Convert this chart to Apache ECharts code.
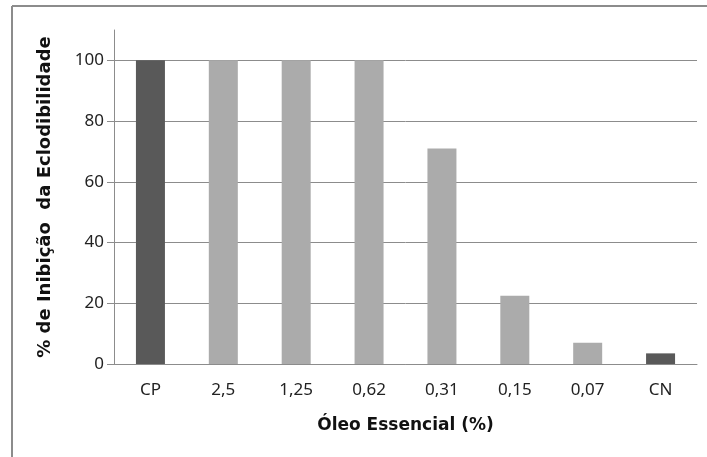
<!DOCTYPE html>
<html>
<head>
<meta charset="utf-8">
<script src="https://cdn.jsdelivr.net/npm/echarts@6/dist/echarts.min.js"></script>
<style>
  html, body { margin: 0; padding: 0; background: #fff; }
  #chart { width: 707px; height: 457px; }
</style>
</head>
<body>
<div id="chart"></div>
<script>
// concentrações de óleo essencial (CP / CN = controles)
const categories = ['CP', '2,5', '1,25', '0,62', '0,31', '0,15', '0,07', 'CN']
const inibicao = [100, 100, 100, 100, 71, 22.5, 7, 3.5]
const controles = ['CP', 'CN']

const chart = echarts.init(document.getElementById('chart'))

chart.setOption({
  animation: false,
  graphic: [
    // moldura (só esquerda e topo aparecem)
    { type: 'line', shape: { x1: 12, y1: 6, x2: 12, y2: 457 }, style: { stroke: '#8c8c8c', lineWidth: 2 } },
    { type: 'line', shape: { x1: 12, y1: 6, x2: 707, y2: 6 }, style: { stroke: '#8c8c8c', lineWidth: 2 } }
  ],
  grid: { left: 114, right: 10, top: 30, bottom: 93 },
  xAxis: {
    type: 'category',
    data: categories,
    name: 'Óleo Essencial (%)',
    nameLocation: 'middle',
    nameGap: 53,
    nameTextStyle: { fontFamily: 'DejaVu Sans', fontWeight: 'bold', fontSize: 17, color: '#111' },
    axisLine: { lineStyle: { color: '#8c8c8c', width: 1 } },
    axisTick: { length: 7, lineStyle: { color: '#8c8c8c' } },
    axisLabel: { fontFamily: 'Noto Sans', fontSize: 17, color: '#222', margin: 18 }
  },
  yAxis: {
    type: 'value',
    min: 0,
    max: 110,
    interval: 20,
    name: '% de Inibição  da Eclodibilidade',
    nameLocation: 'middle',
    nameGap: 60,
    nameTextStyle: { fontFamily: 'DejaVu Sans', fontWeight: 'bold', fontSize: 18, color: '#111' },
    axisLine: { show: true, lineStyle: { color: '#8c8c8c', width: 1 } },
    axisTick: { show: true, length: 7, lineStyle: { color: '#8c8c8c' } },
    axisLabel: { fontFamily: 'Noto Sans', fontSize: 17, color: '#222', margin: 10, showMaxLabel: false },
    splitLine: { show: true, showMaxLine: false, lineStyle: { color: '#8c8c8c', width: 1 } }
  },
  series: [{
    type: 'bar',
    barWidth: 29,
    data: inibicao.map((v, i) => ({
      value: v,
      itemStyle: { color: controles.includes(categories[i]) ? '#595959' : '#ababab' }
    }))
  }]
})
</script>
</body>
</html>
